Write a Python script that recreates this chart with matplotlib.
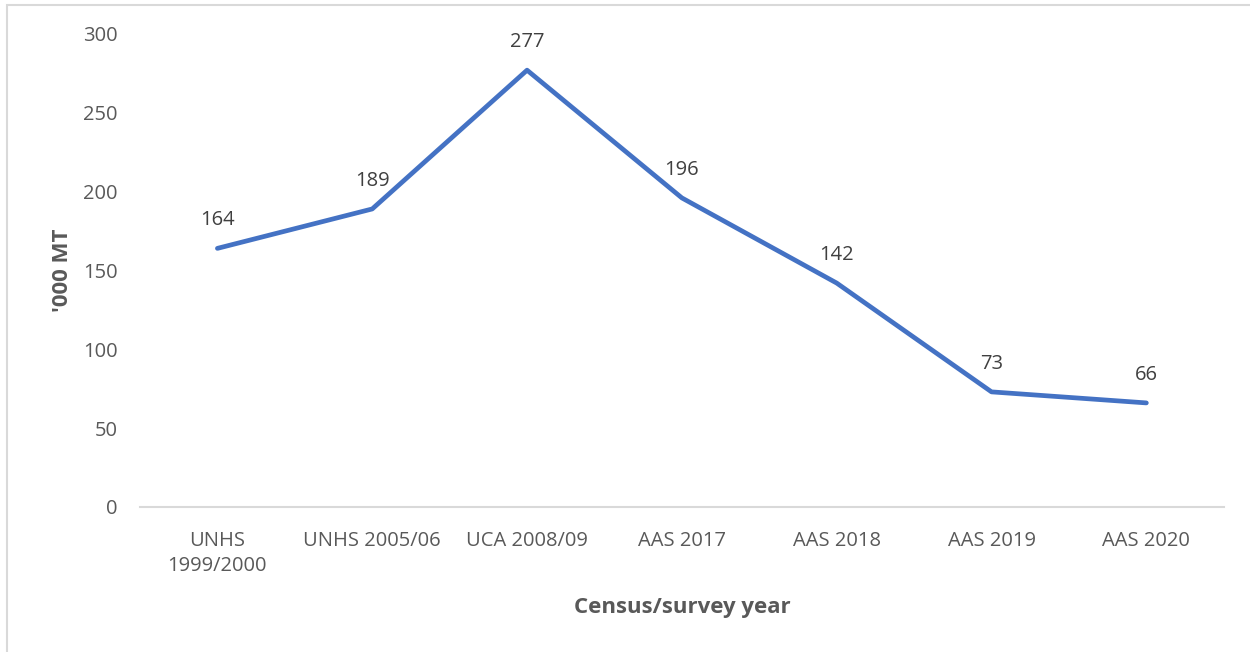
import matplotlib
matplotlib.use("Agg")
from matplotlib import pyplot as plt
from matplotlib.patches import Rectangle

categories = ["UNHS\n1999/2000", "UNHS 2005/06", "UCA 2008/09", "AAS 2017",
              "AAS 2018", "AAS 2019", "AAS 2020"]
values = [164, 189, 277, 196, 142, 73, 66]
yticks = [0, 50, 100, 150, 200, 250, 300]

plt.rcParams['font.family'] = ['Open Sans', 'DejaVu Sans']
grey = "#595959"

fig = plt.figure(figsize=(12.5, 6.52), dpi=100)
ax = fig.add_axes([0.112, 0.2224, 0.867, 0.7256])

X = range(len(categories))
ax.plot(X, values, color="#4472C4", linewidth=3.4, solid_capstyle="round",
        solid_joinstyle="round")

for x, v in zip(X, values):
    ax.annotate(str(v), (x, v), xytext=(0, 13), textcoords="offset points",
                ha="center", va="bottom", fontsize=14.5, color="#404040")

ax.set_xlim(-0.5, len(categories) - 0.5)
ax.set_ylim(0, 300)
ax.set_xticks(list(X))
ax.set_xticklabels(categories, fontsize=14.5, color=grey, va="top",
                   linespacing=1.35)
ax.set_yticks(yticks)
ax.set_yticklabels([str(t) for t in yticks], fontsize=14.5, color=grey)
ax.tick_params(axis="x", length=0, pad=17)
ax.tick_params(axis="y", length=0, pad=16)

for side in ["top", "right", "left"]:
    ax.spines[side].set_visible(False)
ax.spines["bottom"].set_color("#D9D9D9")
ax.spines["bottom"].set_linewidth(1.5)

ax.set_xlabel("Census/survey year", fontsize=16, fontweight="bold",
              color=grey)
ax.set_ylabel("'000 MT", fontsize=16, fontweight="bold", color=grey)
ax.yaxis.set_label_coords(-0.062, 0.5)
ax.xaxis.set_label_coords(0.5, -0.19)

# outer chart border
fig.patches.append(Rectangle((7 / 1250, -0.01), 1.05, (652 - 5) / 652 + 0.01,
                             transform=fig.transFigure, fill=False,
                             edgecolor="#D9D9D9", linewidth=1.5))

fig.savefig("out.png", dpi=100)
